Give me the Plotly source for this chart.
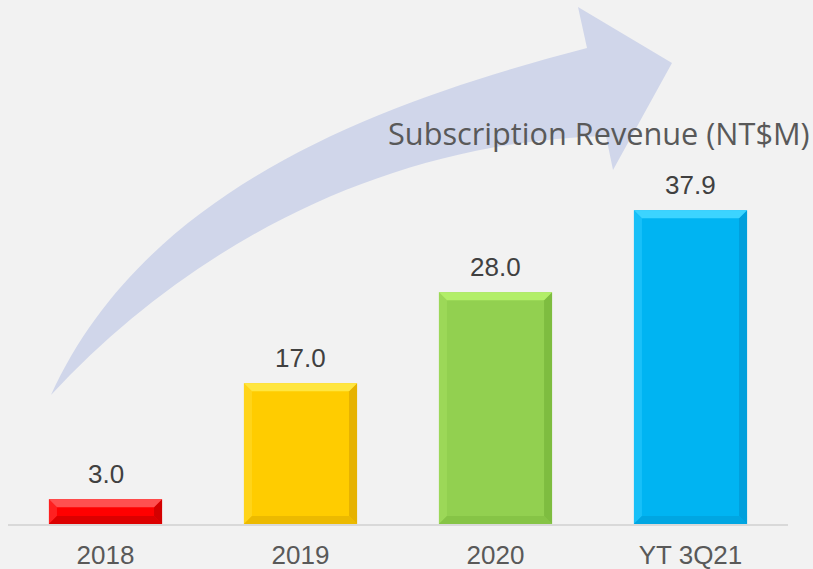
import numpy as np
import plotly.graph_objects as go

# ---- data ----
categories = ["2018", "2019", "2020", "YT 3Q21"]
revenue = [3.0, 17.0, 28.0, 37.9]
value_labels = ["3.0", "17.0", "28.0", "37.9"]
bar_colors = ["#ff0000", "#ffcc00", "#92d050", "#00b4f2"]
top_colors = ["#ff5050", "#ffe640", "#b2ee68", "#3cd4ff"]
left_colors = ["#ff2020", "#ffd41a", "#9cd858", "#18c0f8"]
right_colors = ["#d40000", "#e6b200", "#7ebd40", "#009fdc"]
bottom_colors = ["#dc0000", "#ecba00", "#86c446", "#00a6e2"]
title_text = "Subscription Revenue (NT$M)"

W, H = 813, 569
PX_PER_UNIT = 8.28
Y_BOTTOM_PX = 524
y_max = Y_BOTTOM_PX / PX_PER_UNIT
x_dom = [8 / W, 788 / W]
y_dom = [(H - Y_BOTTOM_PX) / H, 1.0]

fig = go.Figure()
fig.add_trace(go.Bar(
    x=categories, y=revenue, width=0.58,
    marker=dict(color=bar_colors, line=dict(width=0)),
    hoverinfo="skip", showlegend=False,
))

# value labels above bars (category index used for position)
for i, (v, t) in enumerate(zip(revenue, value_labels)):
    fig.add_annotation(x=i, y=v, text=t, showarrow=False, yanchor="middle",
                       yshift=25, font=dict(family="Liberation Sans, Arial", size=26, color="#404040"))

# ---- bevel overlays computed from the data ----
w = 0.29
bx = 8 / 195
by = 8 / PX_PER_UNIT
shapes = []
def poly(pts, color):
    d = "M " + " L ".join(f"{x},{y}" for x, y in pts) + " Z"
    return dict(type="path", path=d, xref="x", yref="y", fillcolor=color,
                line=dict(width=0), layer="above")
for i, v in enumerate(revenue):
    x0, x1, y0, y1 = i - w, i + w, 0, v
    shapes.append(poly([(x0, y0), (x0, y1), (x0 + bx, y1 - by), (x0 + bx, y0 + by)], left_colors[i]))
    shapes.append(poly([(x0, y0), (x1, y0), (x1 - bx, y0 + by), (x0 + bx, y0 + by)], bottom_colors[i]))
    shapes.append(poly([(x1, y1), (x1, y0), (x1 - bx, y0 + by), (x1 - bx, y1 - by)], right_colors[i]))
    shapes.append(poly([(x0, y1), (x1, y1), (x1 - bx, y1 - by), (x0 + bx, y1 - by)], top_colors[i]))

# ---- decorative curved arrow (pixel coordinates -> paper) ----
upper = [(51, 395), (73, 357), (107, 303), (140, 263), (173, 233), (207, 210), (240, 187),
         (273, 168), (305, 150), (373, 115), (440, 92), (540, 62), (587, 48)]
head = [(578, 7), (672, 63), (613, 170), (606, 136)]
lower = [(606, 136), (540, 147), (440, 163), (380, 177), (340, 190), (300, 207), (273, 221),
         (240, 240), (207, 261), (173, 287), (140, 317), (107, 347), (73, 377), (51, 395)]

def fit_cubic(pts):
    P = np.array(pts, dtype=float)
    d = np.r_[0, np.cumsum(np.hypot(*np.diff(P, axis=0).T))]
    t = d / d[-1]
    P0, P3 = P[0], P[-1]
    b1 = 3 * (1 - t) ** 2 * t
    b2 = 3 * (1 - t) * t ** 2
    R = P - np.outer((1 - t) ** 3, P0) - np.outer(t ** 3, P3)
    A = np.c_[b1, b2]
    sol, *_ = np.linalg.lstsq(A, R, rcond=None)
    return P0, sol[0], sol[1], P3

def to_paper(p):
    return (p[0] / W, 1 - p[1] / H)

def fmt(p):
    q = to_paper(p)
    return f"{q[0]:.5f},{q[1]:.5f}"

u0, u1, u2, u3 = fit_cubic(upper)
l0, l1, l2, l3 = fit_cubic(lower)
path = f"M {fmt(u0)} C {fmt(u1)} {fmt(u2)} {fmt(u3)}"
for p in head:
    path += f" L {fmt(p)}"
path += f" L {fmt(l0)} C {fmt(l1)} {fmt(l2)} {fmt(l3)} Z"
shapes.insert(0, dict(type="path", path=path, xref="paper", yref="paper",
                      fillcolor="#d0d6ea", line=dict(width=0), layer="below"))

fig.update_layout(
    width=W, height=H,
    margin=dict(l=0, r=0, t=0, b=0, autoexpand=False),
    paper_bgcolor="#f2f2f2", plot_bgcolor="rgba(0,0,0,0)",
    shapes=shapes,
    xaxis=dict(domain=x_dom, range=[-0.5, 3.5], showgrid=False, zeroline=False,
               showline=True, linecolor="#d9d9d9", linewidth=2, automargin=False,
               tickfont=dict(family="Liberation Sans, Arial", size=26, color="#595959"),
               ticks="", ticklabelstandoff=7, fixedrange=True),
    yaxis=dict(domain=y_dom, range=[0, y_max], visible=False, fixedrange=True, automargin=False),
    annotations=list(fig.layout.annotations) + [
        dict(text=title_text, xref="paper", yref="paper", x=386 / W, y=1 - 133 / H,
             xanchor="left", yanchor="middle", showarrow=False,
             font=dict(family="Open Sans", size=30.7, color="#595959"))
    ],
)

fig.write_html("out.html", config={"displayModeBar": False},
               post_script="document.body.style.margin='0';document.body.style.overflow='hidden';")
